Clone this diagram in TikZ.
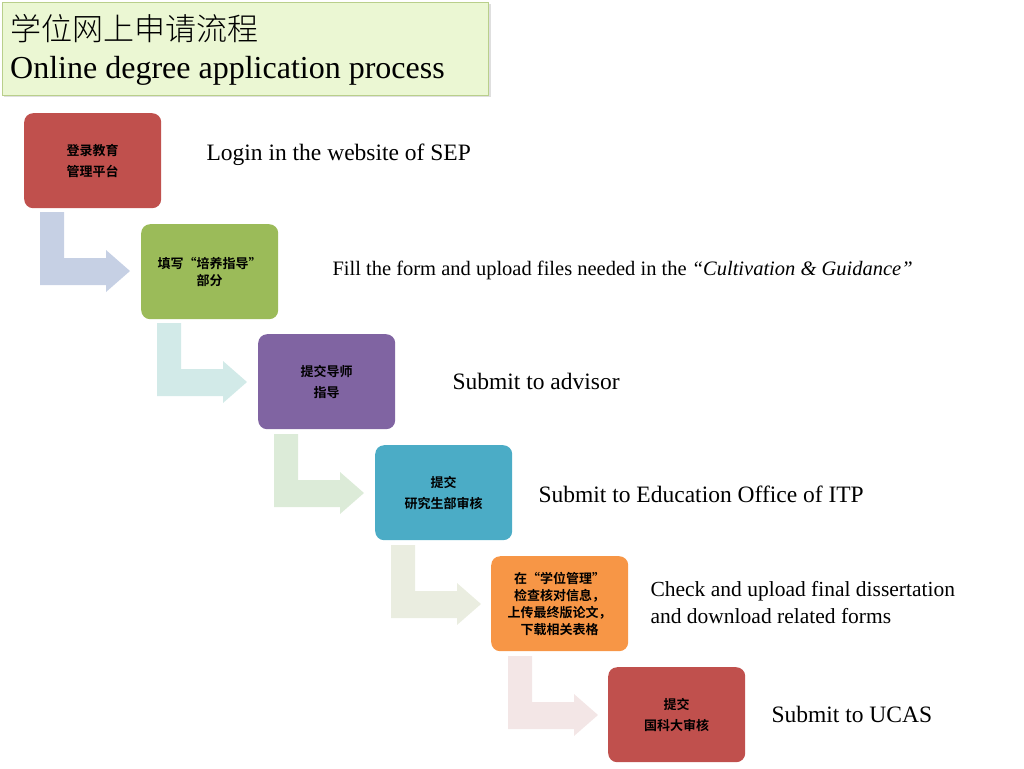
\documentclass[tikz,border=0pt]{standalone}
\usepackage{fontspec}
\setmainfont{Liberation Serif}
\newfontfamily\cjk[BoldFont={Noto Sans CJK SC Bold}]{Noto Sans CJK SC}
\newfontfamily\cjkl{Noto Sans CJK SC Light}
\usetikzlibrary{shadows}
\definecolor{cR}{HTML}{C0504D}\definecolor{cG}{HTML}{9BBB59}
\definecolor{cP}{HTML}{8064A2}\definecolor{cT}{HTML}{4BACC6}
\definecolor{cO}{HTML}{F79646}
\definecolor{a1}{HTML}{C6D0E4}\definecolor{a2}{HTML}{D2EAE8}
\definecolor{a3}{HTML}{DCEBD8}\definecolor{a4}{HTML}{EAEDE0}
\definecolor{a5}{HTML}{F3E6E6}
\definecolor{tfill}{HTML}{EBF7D3}
\tikzset{
 stepbox/.style={rounded corners=9pt,minimum width=137pt,minimum height=95pt,anchor=north west,align=center,font=\cjk\bfseries\fontsize{13}{17}\selectfont,text=black,inner sep=2pt},
 lbl/.style={anchor=west,font=\fontsize{23.5}{27}\selectfont,align=left},
}
\newcommand{\bentarrow}[3]{%
 \fill[#3] (#1+0,#2+0) -- (#1+24,#2+0) -- (#1+24,#2+46) -- (#1+66,#2+46) -- (#1+66,#2+38) -- (#1+90,#2+59) -- (#1+66,#2+80) -- (#1+66,#2+73) -- (#1+0,#2+73) -- cycle;}
\begin{document}
\begin{tikzpicture}[x=1pt,y=-1pt]
\useasboundingbox (0,0) rectangle (1024,768);
\node[draw=cG!70!white,fill=tfill,drop shadow={opacity=0.25},minimum width=486pt,minimum height=93pt,anchor=north west,inner sep=0pt] (title) at (2,2) {};
\node[anchor=west,inner sep=0pt,font=\cjkl\fontsize{31}{36}\selectfont] (t1) at (10,29) {学位网上申请流程};
\node[anchor=west,inner sep=0pt,font=\fontsize{32}{38}\selectfont] (t2) at (10,71) {Online degree application process};
\bentarrow{40}{212}{a1}
\bentarrow{157}{323}{a2}
\bentarrow{274}{434}{a3}
\bentarrow{391}{545}{a4}
\bentarrow{508}{656}{a5}
\node[stepbox,fill=cR] (b1) at (24,113) {登录教育\\[4pt]管理平台};
\node[stepbox,fill=cG] (b2) at (141,224) {填写“培养指导”\\部分};
\node[stepbox,fill=cP] (b3) at (258,334) {提交导师\\[4pt]指导};
\node[stepbox,fill=cT] (b4) at (375,445) {提交\\[4pt]研究生部审核};
\node[stepbox,fill=cO] (b5) at (491,556) {在“学位管理”\\检查核对信息，\\上传最终版论文，\\下载相关表格};
\node[stepbox,fill=cR] (b6) at (608,667) {提交\\[4pt]国科大审核};
\node[lbl] (l1) at (203,155) {Login in the website of SEP};
\node[lbl,font=\fontsize{20.5}{24}\selectfont] (l2) at (329,270) {Fill the form and upload files needed in the \textit{``Cultivation \& Guidance''}};
\node[lbl] (l3) at (449,381) {Submit to advisor};
\node[lbl] (l4) at (535,494) {Submit to Education Office of ITP};
\node[lbl,font=\fontsize{21.5}{27}\selectfont] (l5) at (647,603) {Check and upload final dissertation\\and download related forms};
\node[lbl] (l6) at (768,714) {Submit to UCAS};
\end{tikzpicture}
\end{document}
